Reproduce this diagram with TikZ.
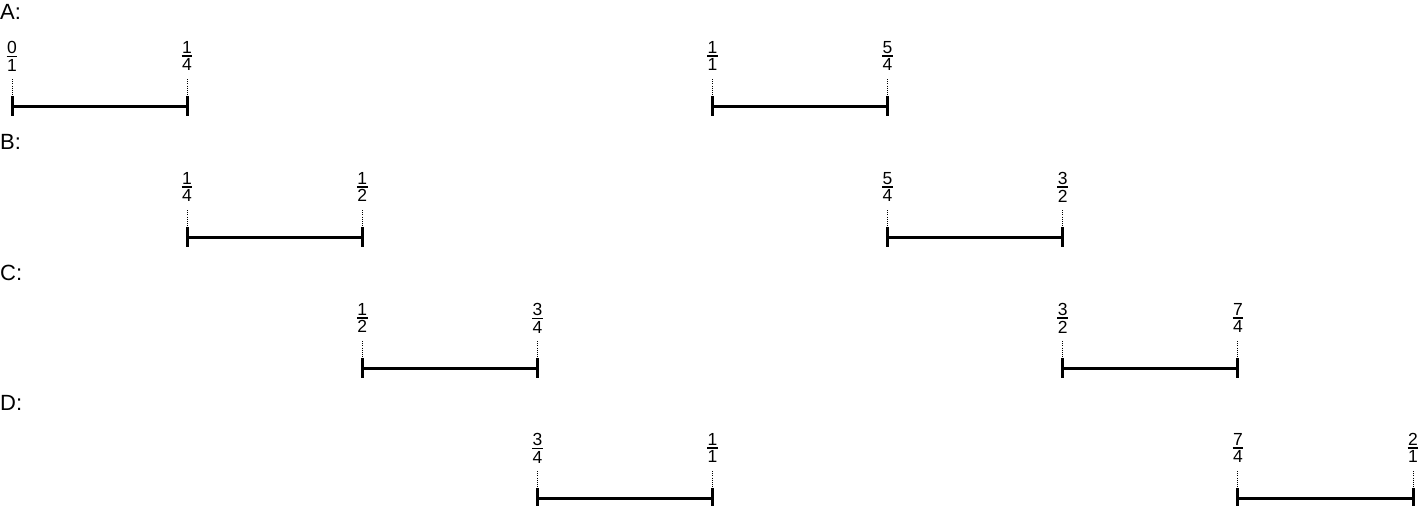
\documentclass[tikz,border=0pt]{standalone}
\usepackage{fontspec}
\setmainfont{Liberation Sans}
\newcommand\myfrac[2]{\vbox{\offinterlineskip\halign{\hskip0.5pt\hfil##\hfil\hskip0.5pt\cr #1\cr\noalign{\kern2.2pt\hrule height 1.2pt\kern2.2pt}#2\cr}}}
% \ivl{name}{x1}{x2}{ybar}{num1}{den1}{num2}{den2}
\newcommand\ivl[8]{%
  \coordinate (#1-a) at (#2,#4);
  \coordinate (#1-b) at (#3,#4);
  \node[fraclabel] (#1-fa) at (#2,#4-50) {\myfrac{#5}{#6}};
  \node[fraclabel] (#1-fb) at (#3,#4-50) {\myfrac{#7}{#8}};
  \coordinate (#1-ga) at (#2,#4-27);
  \coordinate (#1-gb) at (#3,#4-27);
  \coordinate (#1-ta) at (#2,#4-10);
  \coordinate (#1-tb) at (#3,#4-10);
  \coordinate (#1-ua) at (#2,#4+10);
  \coordinate (#1-ub) at (#3,#4+10);
  \draw[guide] (#1-ga) -- (#1-ta);
  \draw[guide] (#1-gb) -- (#1-tb);
  \draw[tickmark] (#1-ta) -- (#1-ua);
  \draw[tickmark] (#1-tb) -- (#1-ub);
  \draw[interval] (#1-a) -- (#1-b);
}
\begin{document}
\begin{tikzpicture}[x=1pt,y=-1pt,
  rowlabel/.style={anchor=west,inner sep=0pt,font=\fontsize{22}{24}\selectfont},
  fraclabel/.style={inner sep=0pt,font=\fontsize{17.5}{20}\selectfont},
  guide/.style={line width=1pt,dash pattern=on 1pt off 1.2pt},
  interval/.style={line width=3pt},
  tickmark/.style={line width=3pt}]
\useasboundingbox (0,0) rectangle (1419,506);
% row labels
\node[rowlabel] (la) at (0,12) {A:};
\node[rowlabel] (lb) at (0,142) {B:};
\node[rowlabel] (lc) at (0,273) {C:};
\node[rowlabel] (ld) at (0,403) {D:};
% row A
\ivl{a1}{12}{187.1}{106}{0}{1}{1}{4}
\ivl{a2}{712.5}{887.6}{106}{1}{1}{5}{4}
% row B
\ivl{b1}{187.1}{362.25}{237}{1}{4}{1}{2}
\ivl{b2}{887.6}{1062.75}{237}{5}{4}{3}{2}
% row C
\ivl{c1}{362.25}{537.4}{368}{1}{2}{3}{4}
\ivl{c2}{1062.75}{1237.9}{368}{3}{2}{7}{4}
% row D
\ivl{d1}{537.4}{712.5}{498}{3}{4}{1}{1}
\ivl{d2}{1237.9}{1413}{498}{7}{4}{2}{1}
\end{tikzpicture}
\end{document}
